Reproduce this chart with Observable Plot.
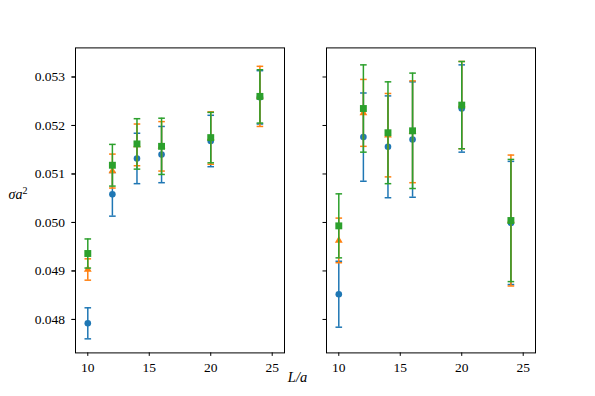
<!DOCTYPE html>
<html><head><meta charset="utf-8">
<script src="https://cdn.jsdelivr.net/npm/d3@7"></script>
<script src="https://cdn.jsdelivr.net/npm/@observablehq/plot@0.6"></script>
<style>
body{margin:0;background:#fff}
#chart{position:relative;width:595px;height:396px}
#chart svg, #chart svg text{font-family:"Liberation Serif","DejaVu Serif",serif !important}
</style>
</head><body><div id="chart"></div>
<script>
const L = [10, 12, 14, 16, 20, 24];
const panels = ["left", "right"];
const seriesNames = ["A", "B", "C"];
const colors = ["#1f77b4", "#ff7f0e", "#2ca02c"];
const symbols = ["circle", "triangle", "square"];
const markerR = [3.3, 2.9, 3.9];
const xTicks = [10, 15, 20, 25];
const yTicks = [0.048, 0.049, 0.050, 0.051, 0.052, 0.053];

// left panel
const leftA = [0.04792, 0.05058, 0.05132, 0.05140, 0.05168, 0.05258];
const leftAerr = [0.00032, 0.00045, 0.00052, 0.00058, 0.00053, 0.00055];
const leftB = [0.04903, 0.05106, 0.05160, 0.05157, 0.05174, 0.05260];
const leftBerr = [0.00022, 0.00035, 0.00043, 0.00051, 0.00054, 0.00062];
const leftC = [0.04936, 0.05118, 0.05162, 0.05157, 0.05175, 0.05260];
const leftCerr = [0.00030, 0.00043, 0.00052, 0.00058, 0.00052, 0.00055];
// right panel
const rightA = [0.04852, 0.05176, 0.05156, 0.05171, 0.05235, 0.04999];
const rightAerr = [0.00068, 0.00091, 0.00105, 0.00119, 0.00090, 0.00127];
const rightB = [0.04963, 0.05226, 0.05180, 0.05187, 0.05242, 0.05004];
const rightBerr = [0.00046, 0.00069, 0.00086, 0.00105, 0.00090, 0.00135];
const rightC = [0.04993, 0.05235, 0.05185, 0.05189, 0.05242, 0.05004];
const rightCerr = [0.00066, 0.00090, 0.00105, 0.00119, 0.00090, 0.00126];

const table = {
  left: [[leftA, leftAerr], [leftB, leftBerr], [leftC, leftCerr]],
  right: [[rightA, rightAerr], [rightB, rightBerr], [rightC, rightCerr]]
};
const rows = [];
panels.forEach(p => table[p].forEach(([v, e], si) => L.forEach((x, i) => {
  rows.push({panel: p, series: seriesNames[si], L: x, v: v[i], lo: v[i] - e[i], hi: v[i] + e[i]});
})));

const capSymbol = {draw(ctx, size) { const w = Math.sqrt(size / Math.PI); ctx.moveTo(-w, 0); ctx.lineTo(w, 0); }};

const marks = [];
seriesNames.forEach((s, si) => {
  const d = rows.filter(r => r.series === s);
  marks.push(Plot.ruleX(d, {fx: "panel", x: "L", y1: "lo", y2: "hi", stroke: colors[si], strokeWidth: 1.5}));
  marks.push(Plot.dot(d, {fx: "panel", x: "L", y: "lo", symbol: capSymbol, r: 3.3, stroke: colors[si], strokeWidth: 1.5}));
  marks.push(Plot.dot(d, {fx: "panel", x: "L", y: "hi", symbol: capSymbol, r: 3.3, stroke: colors[si], strokeWidth: 1.5}));
  marks.push(Plot.dot(d, {fx: "panel", x: "L", y: "v", symbol: symbols[si], r: markerR[si], fill: colors[si], stroke: "none"}));
});

const chart = Plot.plot({
  width: 595,
  height: 396,
  marginLeft: 74.4,
  marginRight: 59.5,
  marginTop: 47.4,
  marginBottom: 43.6,
  style: "font-size:13.5px;color:black;background:white;",
  fx: {domain: panels, axis: null, padding: 0.1667, label: null},
  x: {domain: [9, 26], label: null},
  y: {domain: [0.04731, 0.05360], label: null},
  marks: [
    ...marks,
    Plot.frame({stroke: "black", strokeWidth: 1}),
    Plot.axisX({ticks: xTicks, tickSize: 3.5, tickPadding: 6.5, label: null, tickFormat: d3.format("d")}),
    Plot.axisY({ticks: yTicks, tickSize: 3.5, text: null, label: null, facetAnchor: null}),
    Plot.axisY({ticks: yTicks, tickSize: 3.5, tickPadding: 7, label: null, tickFormat: d3.format(".3f")})
  ]
});

const svg = d3.select(chart);
const yl = svg.append("text").attr("x", 18).attr("y", 199).attr("text-anchor", "middle")
  .attr("font-size", 14).attr("fill", "black");
yl.append("tspan").attr("font-style", "italic").text("σa");
yl.append("tspan").attr("dy", -5.5).attr("font-size", 10).text("2");

svg.append("text").attr("x", 297.5).attr("y", 382).attr("text-anchor", "middle")
  .attr("font-size", 14.5).attr("font-style", "italic")
  .attr("fill", "black").text("L/a");

document.getElementById("chart").appendChild(chart);
</script>
</body></html>
